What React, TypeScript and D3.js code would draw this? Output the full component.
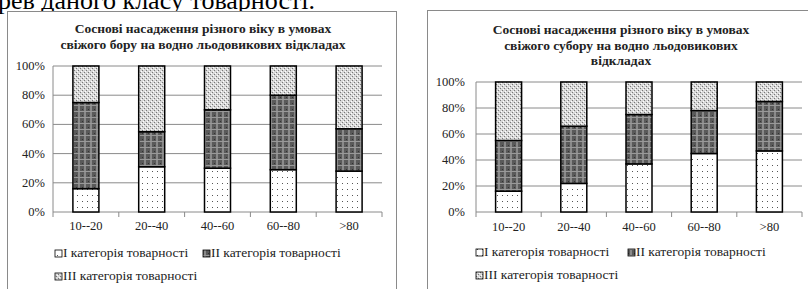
import React from "react";
import * as d3 from "d3";

const categories = ["10--20", "20--40", "40--60", "60--80", ">80"];
const seriesNames = ["I категорія товарності", "II категорія товарності", "III категорія товарності"];
const leftI = [16, 31, 30, 29, 28];
const leftII = [59, 24, 40, 51, 29];
const leftIII = [25, 45, 30, 20, 43];
const rightI = [16, 22, 37, 45, 47];
const rightII = [39, 44, 38, 33, 38];
const rightIII = [45, 34, 25, 22, 15];
const yTicks = [0, 20, 40, 60, 80, 100];
const leftTitle = ["Соснові насадження різного віку в умовах", "свіжого бору на водно  льодовикових відкладах"];
const rightTitle = ["Соснові насадження різного віку в умовах", "свіжого субору на водно  льодовикових", "відкладах"];
const topText = "рев даного класу товарності.";

const FONT = "Liberation Serif, FreeSerif, DejaVu Serif, serif";
const fills = ["url(#patI)", "url(#patII)", "url(#patIII)"];
const txt = (size: number, weight: string = "normal") => ({ fontFamily: FONT, fontSize: size + "px", fontWeight: weight as any });

type ChartProps = {
  box: { x: number; y: number; w: number; h: number };
  title: string[];
  titleY: number[];
  titleX: number;
  plot: { x0: number; x1: number; y0: number; y1: number };
  labelX: number;
  catY: number;
  legend: { x: number; x2: number; y1: number; y2: number };
  I: number[];
  II: number[];
  III: number[];
};

function Chart(p: ChartProps) {
  const xb = d3.scaleBand<string>().domain(categories).range([p.plot.x0, p.plot.x1]);
  const y = d3.scaleLinear().domain([0, 100]).range([p.plot.y1, p.plot.y0]);
  const rows = categories.map((c, i) => ({ c, v: [p.I[i], p.II[i], p.III[i]] }));
  const stack = d3.stack<any>().keys(["0", "1", "2"]).value((d, k) => d.v[+k]);
  const layers = stack(rows as any);
  const bw = 26;
  return (
    <g>
      <rect x={p.box.x} y={p.box.y} width={p.box.w} height={p.box.h} fill="#fff" stroke="#8a8a8a" strokeWidth={1} />
      {p.title.map((t, i) => (
        <text key={i} x={p.titleX} y={p.titleY[i]} textAnchor="middle" style={txt(13.5, "bold")} fill="#222">{t}</text>
      ))}
      {yTicks.map((t) => (
        <g key={t}>
          {t > 0 && <line x1={p.plot.x0} x2={p.plot.x1} y1={y(t)} y2={y(t)} stroke="#8a8a8a" strokeWidth={1} />}
          <text x={p.labelX} y={y(t) + 4} textAnchor="end" style={txt(12.5)} fill="#222">{t}%</text>
        </g>
      ))}
      <line x1={p.plot.x0} x2={p.plot.x0} y1={p.plot.y0} y2={p.plot.y1} stroke="#8a8a8a" />
      <line x1={p.plot.x0} x2={p.plot.x1} y1={p.plot.y1} y2={p.plot.y1} stroke="#8a8a8a" />
      {categories.concat(["end"]).map((c, i) => {
        const tx = i < categories.length ? (xb(c) as number) : p.plot.x1;
        return <line key={i} x1={tx} x2={tx} y1={p.plot.y1} y2={p.plot.y1 + 5} stroke="#8a8a8a" />;
      })}
      {layers.map((layer, li) =>
        layer.map((d, i) => {
          const cx = (xb(categories[i]) as number) + xb.bandwidth() / 2;
          return (
            <rect key={li + "-" + i} x={cx - bw / 2} y={y(d[1])} width={bw} height={y(d[0]) - y(d[1])} fill={fills[li]} stroke="#000" strokeWidth={1.5} />
          );
        })
      )}
      {categories.map((c) => (
        <text key={c} x={(xb(c) as number) + xb.bandwidth() / 2} y={p.catY} textAnchor="middle" style={txt(12.5)} fill="#222">{c}</text>
      ))}
      {[
        { lx: p.legend.x, ly: p.legend.y1, k: 0 },
        { lx: p.legend.x2, ly: p.legend.y1, k: 1 },
        { lx: p.legend.x, ly: p.legend.y2, k: 2 },
      ].map((l) => (
        <g key={l.k}>
          <rect x={l.lx} y={l.ly - 7} width={7} height={7} fill={fills[l.k]} stroke="#000" strokeWidth={0.8} />
          <text x={l.lx + 8} y={l.ly} style={txt(13.5)} fill="#222">{seriesNames[l.k]}</text>
        </g>
      ))}
    </g>
  );
}

export default function App() {
  return (
    <svg width={808} height={289} style={{ position: "absolute", left: 0, top: 0 }}>
      <defs>
        <pattern id="patI" width={5} height={6} patternUnits="userSpaceOnUse">
          <rect width={5} height={6} fill="#fff" />
          <rect x={2} y={3} width={1} height={1} fill="#555" />
        </pattern>
        <pattern id="patII" width={6} height={6} patternUnits="userSpaceOnUse">
          <rect width={6} height={6} fill="#5a5a5a" />
          <rect x={0} y={0} width={2} height={6} fill="#8a8a8a" />
          <rect x={0} y={3} width={6} height={1} fill="#999" />
          <rect x={4} y={1} width={1} height={1} fill="#333" />
        </pattern>
        <pattern id="patIII" width={4} height={4} patternUnits="userSpaceOnUse">
          <rect width={4} height={4} fill="#d8d8d8" />
          <rect x={0} y={0} width={1} height={1} fill="#777" />
          <rect x={2} y={2} width={1} height={1} fill="#777" />
          <rect x={1} y={3} width={1} height={1} fill="#fff" />
          <rect x={3} y={1} width={1} height={1} fill="#fff" />
        </pattern>
      </defs>
      <rect width={808} height={289} fill="#fff" />
      <text x={-2} y={9} style={txt(26)} fill="#000">{topText}</text>
      <Chart
        box={{ x: 7.5, y: 11.5, w: 389, h: 290 }}
        title={leftTitle}
        titleY={[33, 49]}
        titleX={203}
        plot={{ x0: 53, x1: 382, y0: 66, y1: 212 }}
        labelX={45}
        catY={230}
        legend={{ x: 55, x2: 203, y1: 257, y2: 280 }}
        I={leftI}
        II={leftII}
        III={leftIII}
      />
      <Chart
        box={{ x: 427.5, y: 10.5, w: 400, h: 290 }}
        title={rightTitle}
        titleY={[34, 50, 65]}
        titleX={621}
        plot={{ x0: 476, x1: 802, y0: 82, y1: 212 }}
        labelX={465}
        catY={231}
        legend={{ x: 476, x2: 628, y1: 256, y2: 279 }}
        I={rightI}
        II={rightII}
        III={rightIII}
      />
    </svg>
  );
}
